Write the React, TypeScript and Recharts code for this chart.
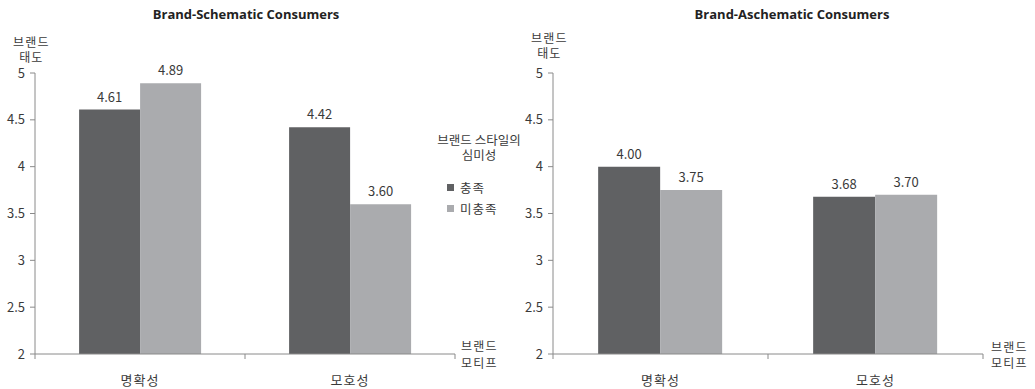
import React from 'react';
import { BarChart, Bar, XAxis, YAxis, LabelList } from 'recharts';

const categories = ['명확성', '모호성'];
const seriesNames = ['충족', '미충족'];
const schematicSatisfied = [4.61, 4.42];
const schematicUnsatisfied = [4.89, 3.6];
const aschematicSatisfied = [4.0, 3.68];
const aschematicUnsatisfied = [3.75, 3.7];
const yTicks = [2, 2.5, 3, 3.5, 4, 4.5, 5];
const titles = ['Brand-Schematic Consumers', 'Brand-Aschematic Consumers'];
const yAxisTitle = ['브랜드', '태도'];
const xAxisTitle = ['브랜드', '모티프'];
const legendTitle = ['브랜드 스타일의', '심미성'];

const colors = ['#606163', '#aaabae'];
const axisColor = '#8a8a8a';
const textColor = '#3a3a3a';
const FONT = '"Noto Sans CJK KR", "Noto Sans", sans-serif';

const TICK_SIZE = 6;
const TICK_MARGIN = 16;

const buildData = (a: number[], b: number[]) =>
  categories.map((c, i) => ({ category: c, s0: a[i], s1: b[i] }));

const leftData = buildData(schematicSatisfied, schematicUnsatisfied);
const rightData = buildData(aschematicSatisfied, aschematicUnsatisfied);

const CatTick = (props: any) => {
  const { x, y, payload, index, visibleTicksCount } = props;
  const off = payload && payload.offset ? payload.offset : 0;
  const axisY = y - TICK_SIZE - TICK_MARGIN;
  const isLast = index === visibleTicksCount - 1;
  return (
    <g>
      <line x1={x - off} x2={x - off} y1={axisY} y2={axisY + 5} stroke={axisColor} />
      {isLast && <line x1={x + off} x2={x + off} y1={axisY} y2={axisY + 5} stroke={axisColor} />}
      <text
        x={x}
        y={y}
        dy="0.71em"
        textAnchor="middle"
        fill={textColor}
        fontSize={13}
        letterSpacing={1}
        fontFamily={FONT}
      >
        {payload.value}
      </text>
    </g>
  );
};

function Panel({ data, width, marginRight }: { data: any[]; width: number; marginRight: number }) {
  return (
    <BarChart
      width={width}
      height={389}
      data={data}
      margin={{ top: 73, right: marginRight, bottom: 5, left: 0 }}
      barCategoryGap="21%"
      barGap={0}
      style={{ fontFamily: FONT }}
    >
      <XAxis
        dataKey="category"
        height={30}
        axisLine={{ stroke: axisColor }}
        tickLine={false}
        tickSize={TICK_SIZE}
        tickMargin={TICK_MARGIN}
        tick={<CatTick />}
        interval={0}
      />
      <YAxis
        domain={[2, 5]}
        ticks={yTicks}
        width={35}
        tickSize={5}
        tickMargin={5}
        tickLine={{ stroke: axisColor }}
        axisLine={{ stroke: axisColor }}
        tick={{ fill: textColor, fontSize: 13 }}
        interval={0}
      />
      {['s0', 's1'].map((k, i) => (
        <Bar key={k} dataKey={k} fill={colors[i]} isAnimationActive={false} name={seriesNames[i]}>
          <LabelList
            dataKey={k}
            position="top"
            offset={8}
            fill={textColor}
            fontSize={13}
            formatter={(v: any) => Number(v).toFixed(2)}
          />
        </Bar>
      ))}
    </BarChart>
  );
}

const twoLine = (lines: string[], lh: number, style: React.CSSProperties) => (
  <div
    style={{
      position: 'absolute',
      fontFamily: FONT,
      fontSize: 12,
      lineHeight: `${lh}px`,
      color: textColor,
      letterSpacing: 1.2,
      whiteSpace: 'nowrap',
      ...style,
    }}
  >
    {lines.map((l) => (
      <div key={l} style={{ height: lh }}>{l}</div>
    ))}
  </div>
);

export default function App() {
  return (
    <div style={{ position: 'absolute', left: 0, top: 0, width: 1035, height: 389, background: '#fff', overflow: 'hidden' }}>
      <div style={{ position: 'absolute', left: 0, top: 0 }}>
        <Panel data={leftData} width={520} marginRight={65} />
      </div>
      <div style={{ position: 'absolute', left: 518, top: 0 }}>
        <Panel data={rightData} width={517} marginRight={52} />
      </div>
      {[246, 792].map((cx, i) => (
        <div
          key={titles[i]}
          style={{
            position: 'absolute',
            left: cx - 150,
            width: 300,
            top: 5,
            textAlign: 'center',
            fontFamily: '"Open Sans", sans-serif',
            fontWeight: 700,
            fontSize: 13,
            color: '#222',
          }}
        >
          {titles[i]}
        </div>
      ))}
      {twoLine(yAxisTitle, 15, { left: 13, top: 34, textAlign: 'center' })}
      {twoLine(yAxisTitle, 15, { left: 531, top: 30, textAlign: 'center' })}
      {twoLine(xAxisTitle, 17, { left: 461, top: 337, textAlign: 'left' })}
      {twoLine(xAxisTitle, 16, { left: 991, top: 339, textAlign: 'left' })}
      <div style={{ position: 'absolute', left: 414, top: 132, width: 130, fontFamily: FONT, fontSize: 12.5, color: textColor }}>
        <div style={{ textAlign: 'center', width: 130 }}>
          {legendTitle.map((l) => (
            <div key={l} style={{ height: 15, lineHeight: '15px' }}>{l}</div>
          ))}
        </div>
        {seriesNames.map((n, i) => (
          <div key={n} style={{ position: 'absolute', left: 33, top: 48 + i * 21, display: 'flex', alignItems: 'center', lineHeight: '15px', letterSpacing: 1 }}>
            <span style={{ display: 'inline-block', width: 7, height: 7, background: colors[i], marginRight: 6 }} />
            {n}
          </div>
        ))}
      </div>
    </div>
  );
}
